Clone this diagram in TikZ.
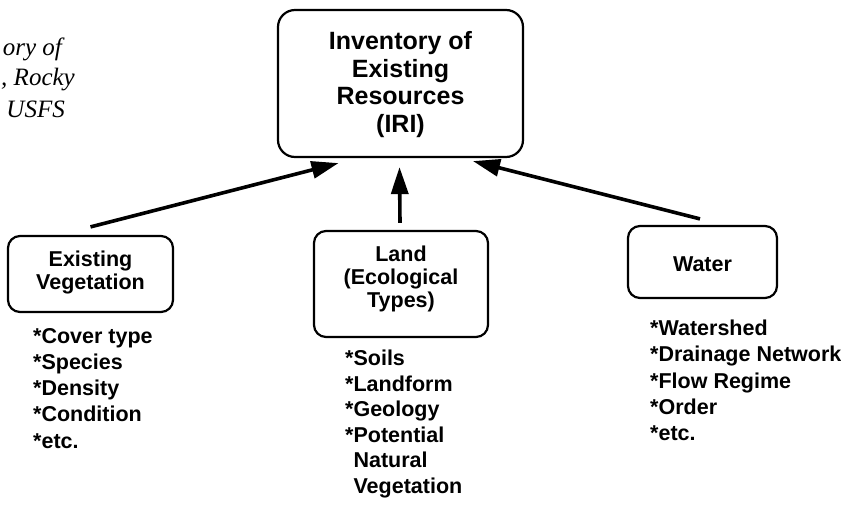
\documentclass[tikz,border=0pt]{standalone}
\usepackage{fontspec}
\setmainfont{Liberation Sans}
\newfontfamily\capfont{Liberation Serif}
\usetikzlibrary{arrows.meta}
\tikzset{
  box/.style={draw, line width=2.2pt, rounded corners=12pt, inner sep=0pt},
  boxtxt/.style={align=center, inner sep=0pt, font=\bfseries\fontsize{21.5}{23}\selectfont},
  feed/.style={line width=3.6pt, -{Triangle[length=27pt,width=17pt]}},
  items/.style={anchor=north west, align=left, inner sep=0pt, font=\bfseries\fontsize{21.5}{26.2}\selectfont},
  captxt/.style={anchor=base east, inner sep=0pt, font=\capfont\itshape\fontsize{25}{28}\selectfont}
}
\begin{document}
\begin{tikzpicture}[x=1pt,y=-1pt]
\useasboundingbox (0,0) rectangle (841,512);

% caption fragment, top left
\node[captxt] (c1) at (62,55) {ory of};
\node[captxt] (c2) at (75,85) {, Rocky};
\node[captxt] (c3) at (65,117) {USFS};

% boxes
\node[box, rounded corners=17pt, minimum width=245pt, minimum height=147pt] (iri) at (400.5,83.5) {};
\node[boxtxt, font=\bfseries\fontsize{25}{27.5}\selectfont] (iritxt) at (400.5,84.5) {Inventory of\\Existing\\Resources\\(IRI)};

\node[box, minimum width=165pt, minimum height=76pt] (veg) at (90.5,274) {};
\node[boxtxt] (vegtxt) at (90.5,272.5) {Existing\\Vegetation};

\node[box, minimum width=174pt, minimum height=106pt] (land) at (401,284) {};
\node[boxtxt] (landtxt) at (401,278.5) {Land\\(Ecological\\Types)};

\node[box, minimum width=149pt, minimum height=72pt] (water) at (702.5,262) {};
\node[boxtxt] (watertxt) at (702.5,264.5) {Water};

% attribute lists
\node[items] (veglist) at (33,328) {*Cover type\\*Species\\*Density\\*Condition\\*etc.};
\node[items, font=\bfseries\fontsize{21.5}{25.5}\selectfont] (landlist) at (345,350) {*Soils\\*Landform\\*Geology\\*Potential\\\phantom{*}Natural\\\phantom{*}Vegetation};
\node[items] (waterlist) at (650,320) {*Watershed\\*Drainage Network\\*Flow Regime\\*Order\\*etc.};

% arrows into the inventory box
\draw[feed] ([yshift=8pt]veg.north) -- ([xshift=-62pt,yshift=-5pt]iri.south);
\draw[feed] ([xshift=-1pt,yshift=7pt]land.north) -- ([xshift=-1pt,yshift=-9pt]iri.south);
\draw[feed] ([xshift=-2.5pt,yshift=6pt]water.north) -- ([xshift=72.5pt,yshift=-3pt]iri.south);
\end{tikzpicture}
\end{document}
